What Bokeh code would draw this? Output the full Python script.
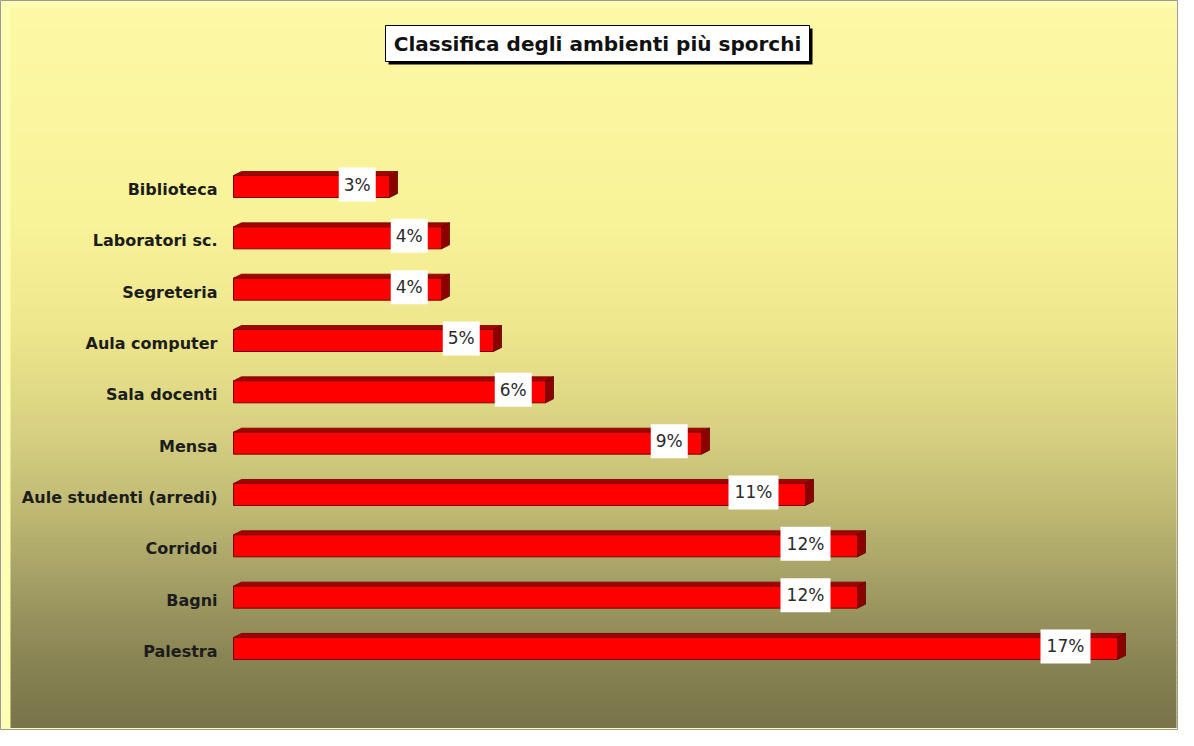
from bokeh.plotting import figure
from bokeh.models import Range1d, ColumnDataSource
from bokeh.core.properties import value
from bokeh.embed import file_html
from bokeh.resources import INLINE

# ---- data ----
categories = ["Biblioteca", "Laboratori sc.", "Segreteria", "Aula computer", "Sala docenti",
              "Mensa", "Aule studenti (arredi)", "Corridoi", "Bagni", "Palestra"]
values = [3, 4, 4, 5, 6, 9, 11, 12, 12, 17]
title_text = "Classifica degli ambienti più sporchi"

# ---- layout (pixel geometry of the frame) ----
W, H = 1178, 730
X0, SX = 233.0, 52.0      # frame px of 0 %, px per %
Y0, SY = 186.0, 51.33     # frame px of first row centre, px per row

def xd(fx):
    return (fx - X0) / SX

def yd(fy):
    return (fy - Y0) / SY

p = figure(width=W, height=H, output_backend="svg", toolbar_location=None,
           x_range=Range1d(xd(0), xd(W)), y_range=Range1d(yd(H), yd(0)),
           min_border=0)
p.axis.visible = False
p.grid.visible = False
p.background_fill_color = "#FFFDB4"
p.border_fill_color = "white"
p.outline_line_color = "#9a9a9a"
p.outline_line_width = 1

# ---- gradient background ----
stops = [(0.0, (253, 248, 165)), (0.3, (248, 242, 152)), (0.45, (238, 230, 140)),
         (0.6, (213, 206, 128)), (0.7, (190, 184, 115)), (0.8, (163, 158, 100)),
         (0.9, (138, 133, 84)), (1.0, (120, 116, 72))]

def col_at(t):
    for (t0, c0), (t1, c1) in zip(stops[:-1], stops[1:]):
        if t0 <= t <= t1:
            f = (t - t0) / (t1 - t0)
            c = [int(round(a + (b - a) * f)) for a, b in zip(c0, c1)]
            return "#%02x%02x%02x" % tuple(c)
    return "#%02x%02x%02x" % stops[-1][1]

gy0, gy1 = 7, 727
n = 144
step = (gy1 - gy0) / n
tops, bots, cols = [], [], []
for k in range(n):
    a = gy0 + k * step
    tops.append(yd(a))
    bots.append(yd(a + step + 0.6))
    cols.append(col_at((k + 0.5) / n))
p.quad(left=xd(10), right=xd(W - 2), top=tops, bottom=bots, fill_color=cols,
       line_color=None)

# ---- 3D bars ----
idx = list(range(len(categories)))
BH = 22.0 / SY
DX = 8.0 / SX
DY = 4.0 / SY

top_xs, top_ys, side_xs, side_ys = [], [], [], []
for i, v in zip(idx, values):
    top_xs.append([0, DX, v + DX, v])
    top_ys.append([i - BH / 2, i - BH / 2 - DY, i - BH / 2 - DY, i - BH / 2])
    side_xs.append([v, v + DX, v + DX, v])
    side_ys.append([i - BH / 2, i - BH / 2 - DY, i + BH / 2 - DY, i + BH / 2])

p.patches(top_xs, top_ys, fill_color="#A80000", line_color="#6a0000", line_width=0.8)
p.patches(side_xs, side_ys, fill_color="#8C0000", line_color="#5a0000", line_width=0.8)
p.hbar(y=idx, left=0, right=values, height=BH, fill_color="#FF0000",
       line_color="#7a0000", line_width=1)

# ---- category labels ----
p.text(x=[xd(217)] * len(categories), y=[i + 3.0 / SY for i in idx], text=categories,
       text_align="right", text_baseline="middle", text_font=value("DejaVu Sans"),
       text_font_style="bold", text_font_size="16px", text_color="#1c1c1c")

# ---- value labels ----
labels = ["%d%%" % v for v in values]
lab_x = [v - (1.0 if v >= 10 else 0.62) for v in values]
lab_w = [50 if v >= 10 else 37 for v in values]
lab_y = [i - 2.0 / SY for i in idx]
src = ColumnDataSource(dict(x=lab_x, y=lab_y, w=lab_w, t=labels))
p.rect(x="x", y="y", width="w", height=34, width_units="screen", height_units="screen",
       fill_color="white", line_color=None, source=src)
p.text(x="x", y="y", text="t", text_align="center", text_baseline="middle",
       text_font=value("DejaVu Sans"), text_font_size="17px", text_color="#2a2a2a",
       source=src)

# ---- title box ----
bx0, bx1, by0, by1 = 385, 809, 25, 61
p.quad(left=xd(bx0 + 3), right=xd(bx1 + 3), top=yd(by0 + 3), bottom=yd(by1 + 3),
       fill_color="black", line_color=None)
p.quad(left=xd(bx0), right=xd(bx1), top=yd(by0), bottom=yd(by1),
       fill_color="white", line_color="black", line_width=1)
p.text(x=[xd((bx0 + bx1) / 2)], y=[yd((by0 + by1) / 2)], text=[title_text],
       text_align="center", text_baseline="middle", text_font=value("DejaVu Sans"),
       text_font_style="bold", text_font_size="20px", text_color="#111111")

open("out.html", "w").write(file_html(p, INLINE))
